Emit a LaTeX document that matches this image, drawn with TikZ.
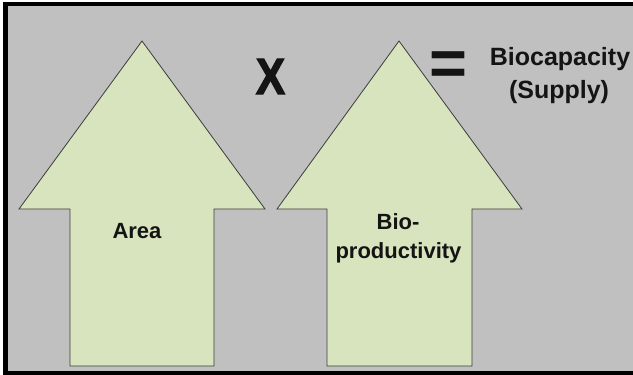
\documentclass[tikz,border=0pt]{standalone}
\usepackage{fontspec}
\setmainfont{Liberation Sans}
\newfontfamily\heavyfont[FakeBold=2.5]{Liberation Sans Bold}
\definecolor{bggray}{RGB}{192,192,192}
\definecolor{arrowfill}{RGB}{215,228,189}
\definecolor{arrowline}{RGB}{60,60,60}
\definecolor{txt}{RGB}{20,20,20}
\begin{document}
\begin{tikzpicture}[x=1pt,y=-1pt,
  bigarrow/.style={fill=arrowfill,draw=arrowline,line width=0.8pt,line join=miter},
  lbl/.style={inner sep=0pt,anchor=base,text=txt,font=\fontsize{22}{26}\selectfont\bfseries},
  toplbl/.style={inner sep=0pt,anchor=base,text=txt,font=\fontsize{25}{30}\selectfont\bfseries}]
\useasboundingbox (0,0) rectangle (633,375);
\fill[white] (0,0) rectangle (633,375);
\fill[black] (3,2) rectangle (633,375);
\fill[bggray] (8,6) rectangle (633,371);
% arrows
\draw[bigarrow] (142,41) -- (265,209) -- (214,209) -- (214,366) -- (70,366) -- (70,209) -- (19,209) -- cycle;
\draw[bigarrow] (399,41) -- (522,209) -- (472,209) -- (472,366) -- (327,366) -- (327,209) -- (277,209) -- cycle;
% labels
\node[lbl] (area) at (137,238) {Area};
\node[lbl] (bio) at (398,229) {Bio-};
\node[lbl] (prod) at (398.5,258) {productivity};
\node[toplbl] (biocap) at (560,65) {Biocapacity};
\node[toplbl] (supply) at (559,98) {(Supply)};
\node[inner sep=0pt,anchor=base,text=txt,font=\fontsize{51}{60}\heavyfont] (times) at (270.5,94) {\scalebox{0.86}[1]{X}};
\node[inner sep=0pt,anchor=base,text=txt,font=\fontsize{65}{70}\selectfont\bfseries] (eq) at (448.5,85) {=};
\end{tikzpicture}
\end{document}
